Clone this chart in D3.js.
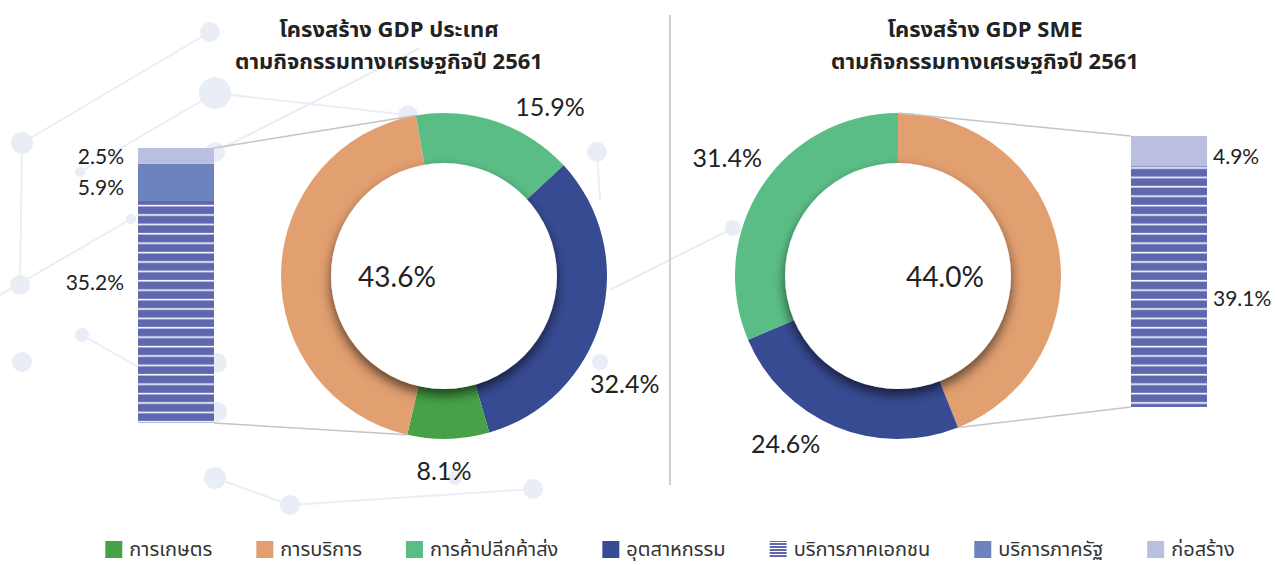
<!DOCTYPE html>
<html><head><meta charset="utf-8">
<script src="https://cdn.jsdelivr.net/npm/d3@7"></script>
<style>body{margin:0;background:#fff} svg{display:block}</style>
</head><body><svg id="c" width="1275" height="565"></svg>
<script>
// ---------------- DATA ----------------
const sectors = ["การเกษตร", "การบริการ", "การค้าปลีกค้าส่ง", "อุตสาหกรรม"];
const countryValues = [8.1, 43.6, 15.9, 32.4];
const smeValues = [0, 44.0, 31.4, 24.6];
const serviceParts = ["บริการภาคเอกชน", "บริการภาครัฐ", "ก่อสร้าง"];
const countryServiceValues = [35.2, 5.9, 2.5];
const smeServiceValues = [39.1, 0, 4.9];
const countryTitle = ["โครงสร้าง GDP ประเทศ", "ตามกิจกรรมทางเศรษฐกิจปี 2561"];
const smeTitle = ["โครงสร้าง GDP SME", "ตามกิจกรรมทางเศรษฐกิจปี 2561"];
const legendLabels = sectors.concat(serviceParts);

// ---------------- STYLE ----------------
const sectorColors = ["#47a247", "#e29f70", "#5bbd86", "#374b93"];
const serviceColors = ["url(#stripe)", "#6d83c0", "#babfdf"];
const FONT = "'Noto Sans Thai','Noto Sans','Lato',sans-serif";
const NUMFONT = "'Lato','Noto Sans',sans-serif";

const svg = d3.select("#c");
const defs = svg.append("defs");
const pat = defs.append("pattern").attr("id", "stripe").attr("patternUnits", "userSpaceOnUse")
  .attr("width", 10).attr("height", 9.4);
pat.append("rect").attr("width", 10).attr("height", 9.4).attr("fill", "#5f67ae");
pat.append("rect").attr("y", 7.4).attr("width", 10).attr("height", 1.6).attr("fill", "#ffffff");
pat.append("rect").attr("y", 9.0).attr("width", 10).attr("height", 0.4).attr("fill", "#aab0d8");
const legPat = defs.append("pattern").attr("id", "stripeLeg").attr("patternUnits", "userSpaceOnUse")
  .attr("width", 10).attr("height", 3);
legPat.append("rect").attr("width", 10).attr("height", 3).attr("fill", "#5f67ae");
legPat.append("rect").attr("y", 2).attr("width", 10).attr("height", 1).attr("fill", "#ffffff");
const f = defs.append("filter").attr("id", "holeShadow").attr("x", "-30%").attr("y", "-30%").attr("width", "160%").attr("height", "160%");
f.append("feDropShadow").attr("dx", 0).attr("dy", 6).attr("stdDeviation", 6)
  .attr("flood-color", "#000").attr("flood-opacity", 0.6);

// ---------------- background decoration ----------------
const decoNodes = [[210,32,10],[215,93,16],[22,143,11],[80,172,5],[131,219,5],[215,152,10],[20,285,10],
  [82,335,7],[22,362,10],[217,363,10],[217,412,10],[215,478,11],[290,505,10],[533,489,10],[597,152,10],
  [733,228,8],[408,115,10],[600,362,8],[455,478,7],[420,48,0],[0,295,0],[600,200,0],[610,290,0]];
const decoLinks = [[0,2],[1,3],[2,6],[5,19],[4,20],[7,10],[11,12],[12,13],[15,22],[14,21],[16,1]];
const deco = svg.append("g");
deco.selectAll("line").data(decoLinks).join("line")
  .attr("x1", d => decoNodes[d[0]][0]).attr("y1", d => decoNodes[d[0]][1])
  .attr("x2", d => decoNodes[d[1]][0]).attr("y2", d => decoNodes[d[1]][1])
  .attr("stroke", "#e9eef6").attr("stroke-width", 2);
deco.selectAll("circle").data(decoNodes.filter(d => d[2] > 0)).join("circle")
  .attr("cx", d => d[0]).attr("cy", d => d[1]).attr("r", d => d[2]).attr("fill", "#e9eef6");

// divider
svg.append("line").attr("x1", 670).attr("x2", 670).attr("y1", 15).attr("y2", 485)
  .attr("stroke", "#cfcfcf").attr("stroke-width", 2);

// ---------------- titles ----------------
function title(lines, cx) {
  svg.append("text").attr("x", cx).attr("text-anchor", "middle")
    .attr("font-family", FONT).attr("font-weight", 700).attr("font-size", 22).attr("fill", "#222")
    .selectAll("tspan").data(lines).join("tspan")
    .attr("x", cx).attr("y", (d, i) => 37 + i * 32).text(d => d);
}
title(countryTitle, 389);
title(smeTitle, 985);

// ---------------- donut + bar ----------------
const deg = Math.PI / 180;
const outerR = 163, innerR = 113;

function drawChart(cfg) {
  const order = cfg.order.filter(i => cfg.values[i] > 0);
  const pie = d3.pie().sort(null).value(i => cfg.values[i])
    .startAngle(cfg.start * deg).endAngle(cfg.start * deg + 2 * Math.PI);
  const arcs = pie(order);
  const arc = d3.arc().innerRadius(innerR - 2).outerRadius(outerR);
  const g = svg.append("g").attr("transform", `translate(${cfg.cx},${cfg.cy})`);

  // bar of services
  const total = cfg.values[1];
  const y = d3.scaleLinear().domain([0, total]).range([cfg.barBottom, cfg.barTop]);
  const stack = [];
  let acc = 0;
  cfg.sub.forEach((v, i) => { stack.push({ i, v, y0: acc, y1: acc + v }); acc += v; });

  // connectors
  const sArc = arcs.find(a => a.data === 1);
  const pt = a => [cfg.cx + outerR * Math.sin(a), cfg.cy - outerR * Math.cos(a)];
  const topPt = cfg.barSide === "left" ? pt(sArc.endAngle) : pt(sArc.startAngle);
  const botPt = cfg.barSide === "left" ? pt(sArc.startAngle) : pt(sArc.endAngle);
  const bx = cfg.barSide === "left" ? cfg.barX + cfg.barW : cfg.barX;
  svg.append("line").attr("x1", bx).attr("y1", y(total)).attr("x2", topPt[0]).attr("y2", topPt[1])
    .attr("stroke", "#c4c4c4").attr("stroke-width", 1.5);
  svg.append("line").attr("x1", bx).attr("y1", y(0)).attr("x2", botPt[0]).attr("y2", botPt[1])
    .attr("stroke", "#c4c4c4").attr("stroke-width", 1.5);

  svg.append("g").selectAll("rect").data(stack.filter(s => s.v > 0)).join("rect")
    .attr("x", cfg.barX).attr("width", cfg.barW)
    .attr("y", d => y(d.y1)).attr("height", d => y(d.y0) - y(d.y1))
    .attr("fill", d => serviceColors[d.i]);

  svg.append("g").selectAll("text").data(stack.filter(s => s.v > 0)).join("text")
    .attr("x", cfg.barSide === "left" ? cfg.barX - 14 : cfg.barX + cfg.barW + 6)
    .attr("y", d => (y(d.y0) + y(d.y1)) / 2 + (cfg.barLabelNudge[d.i] || 0))
    .attr("text-anchor", cfg.barSide === "left" ? "end" : "start")
    .attr("dominant-baseline", "central")
    .attr("font-family", NUMFONT).attr("font-size", 21).attr("fill", "#222")
    .text(d => d.v.toFixed(1) + "%");

  // ring
  g.selectAll("path").data(arcs).join("path").attr("d", arc).attr("fill", d => sectorColors[d.data]);
  g.append("circle").attr("r", innerR).attr("fill", "#fff").attr("filter", "url(#holeShadow)");

  // labels
  g.selectAll("text.lbl").data(arcs).join("text").attr("class", "lbl")
    .attr("x", d => cfg.labelPolar[d.data][1] * Math.sin(cfg.labelPolar[d.data][0] * deg))
    .attr("y", d => -cfg.labelPolar[d.data][1] * Math.cos(cfg.labelPolar[d.data][0] * deg))
    .attr("text-anchor", "middle").attr("dominant-baseline", "central")
    .attr("font-family", NUMFONT).attr("font-size", d => d.data === 1 ? 28 : 25).attr("fill", "#222")
    .text(d => cfg.values[d.data].toFixed(1) + "%");
}

drawChart({
  cx: 444, cy: 276, values: countryValues, sub: countryServiceValues,
  order: [2, 3, 0, 1], start: -10,
  barX: 138, barW: 76, barTop: 148, barBottom: 423, barSide: "left",
  barLabelNudge: { 0: -30, 1: 4, 2: 0 },
  labelPolar: { 2: [32, 200], 3: [120.6, 210], 0: [180, 194], 1: [270, 47] }
});
drawChart({
  cx: 898, cy: 276, values: smeValues, sub: smeServiceValues,
  order: [1, 3, 2, 0], start: 0,
  barX: 1131, barW: 76, barTop: 136, barBottom: 407, barSide: "right",
  barLabelNudge: { 0: 11, 2: 4 },
  labelPolar: { 1: [90, 47], 3: [214, 201], 2: [304.8, 208] }
});

// ---------------- legend ----------------
const legendFills = sectorColors.concat(["url(#stripeLeg)", serviceColors[1], serviceColors[2]]);
const leg = svg.append("g");
const items = leg.selectAll("g").data(legendLabels).join("g");
items.append("rect").attr("width", 17).attr("height", 17).attr("y", 541).attr("fill", (d, i) => legendFills[i]);
items.append("text").attr("x", 24).attr("y", 556).attr("font-family", FONT).attr("font-size", 20)
  .attr("fill", "#333").text(d => d);
const gap = 44;
const widths = [];
items.each(function () { widths.push(24 + d3.select(this).select("text").node().getComputedTextLength()); });
const totalW = d3.sum(widths) + gap * (widths.length - 1);
let xx = 670 - totalW / 2;
items.each(function (d, i) { d3.select(this).attr("transform", `translate(${xx},0)`); xx += widths[i] + gap; });
</script></body></html>
